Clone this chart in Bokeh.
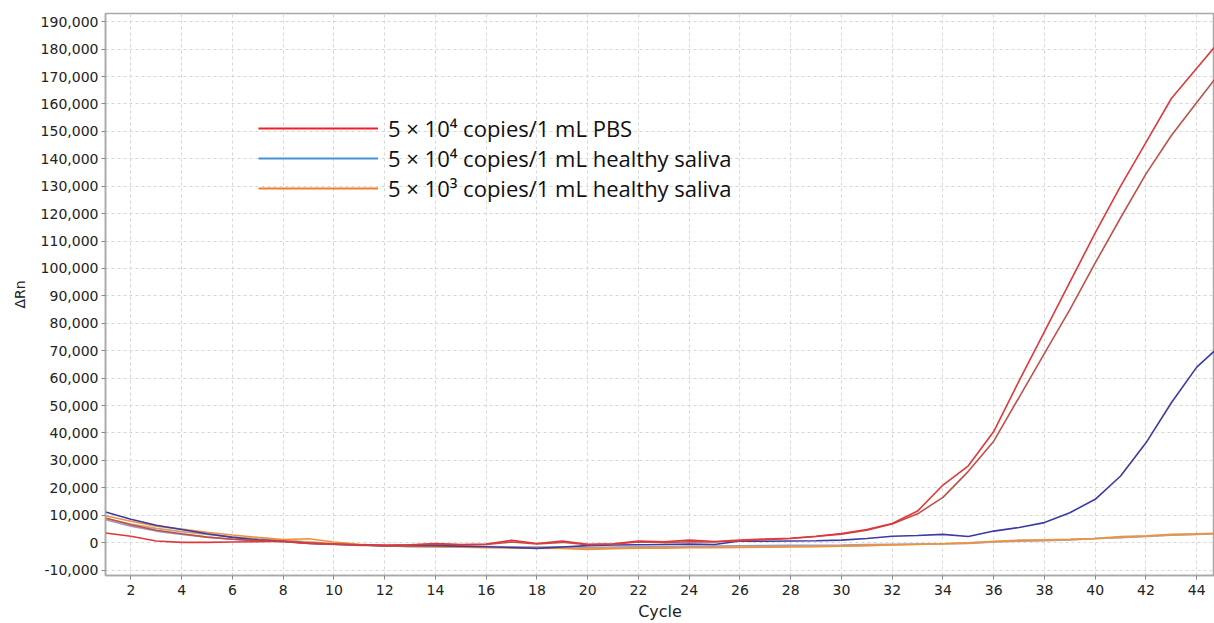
from bokeh.plotting import figure
from bokeh.models import Range1d, FixedTicker, NumeralTickFormatter, Legend, LegendItem
from bokeh.embed import file_html
from bokeh.resources import INLINE

cycles = list(range(1, 46))

pbs_rep1 = [3500, 2300, 600, 100, 100, 200, 300, 500, -200, -500,
            -800, -1000, -800, -300, -700, -500, 800, -300, 600, -600,
            -400, 600, 300, 900, 400, 900, 1300, 1600, 2300, 3300,
            4800, 7000, 11500, 21000, 28000, 40500, 59000, 77000, 95000, 113000,
            130000, 146000, 162000, 173000, 184000]
pbs_rep2 = [9000, 6500, 4500, 3200, 2000, 1200, 700, 400, -300, -600,
            -900, -1100, -900, -600, -800, -700, 200, -500, 100, -800,
            -600, 200, 0, 300, 200, 700, 1100, 1500, 2200, 3100,
            4500, 6800, 10500, 16500, 26000, 37000, 53000, 69000, 85000, 102000,
            118500, 134500, 148500, 160500, 172500]
saliva4_rep1 = [11200, 8500, 6300, 4800, 3200, 1900, 1000, 500, -200, -600,
                -900, -1100, -1000, -1100, -1300, -1500, -1800, -2100, -1600, -1100,
                -900, -800, -700, -500, -700, 600, 500, 600, 700, 900,
                1500, 2300, 2600, 3000, 2200, 4200, 5500, 7300, 10900, 15800,
                24300, 36400, 51000, 64000, 72500]
saliva4_rep2 = [8300, 6000, 4200, 3000, 2000, 1200, 700, 300, -300, -700,
                -1000, -1200, -1300, -1200, -1300, -1400, -1500, -1600, -1500, -1800,
                -1600, -1500, -1400, -1300, -1300, -1200, -1100, -1000, -1000, -900,
                -700, -600, -500, -400, -300, 200, 500, 700, 1000, 1500,
                1800, 2200, 2700, 3000, 3300]
saliva3_rep1 = [9800, 7800, 6000, 4900, 3800, 2800, 1900, 1100, 1400, 200,
                -600, -1100, -1500, -1600, -1700, -1900, -2000, -2000, -2100, -2500,
                -2200, -2000, -2000, -1900, -1900, -1800, -1700, -1600, -1500, -1300,
                -1100, -900, -700, -400, -100, 500, 900, 1000, 1200, 1500,
                2200, 2500, 3000, 3200, 3500]
saliva3_rep2 = [8800, 6800, 5200, 4000, 3000, 2100, 1400, 800, 300, -300,
                -800, -1200, -1400, -1500, -1600, -1700, -1700, -1800, -1900, -2100,
                -2000, -1900, -1800, -1700, -1700, -1600, -1500, -1400, -1300, -1200,
                -1000, -800, -600, -400, -200, 300, 700, 900, 1100, 1400,
                1900, 2300, 2800, 3100, 3300]

legend_labels = ["5 \u00d7 10\u2074 copies/1 mL PBS",
                 "5 \u00d7 10\u2074 copies/1 mL healthy saliva",
                 "5 \u00d7 10\u00b3 copies/1 mL healthy saliva"]
legend_colors = ["#f0202a", "#4a90d9", "#f47c2a"]
legend_series = [pbs_rep1, saliva4_rep1, saliva3_rep1]

y_ticks = list(range(-10000, 190001, 10000))
x_ticks = list(range(2, 45, 2))

p = figure(width=1214, height=623, output_backend="svg", toolbar_location=None,
           x_range=Range1d(1, 44.7), y_range=Range1d(-12000, 193000),
           min_border_left=105, min_border_right=0, min_border_top=13, min_border_bottom=45)
p.background_fill_color = "white"
p.border_fill_color = "white"
p.outline_line_color = "#a8a8a8"
p.outline_line_width = 1.5

for ax in (p.xaxis[0], p.yaxis[0]):
    ax.axis_line_color = "#a8a8a8"
    ax.axis_line_width = 1.5
    ax.major_tick_line_color = "#888888"
    ax.major_tick_in = 0
    ax.major_tick_out = 4
    ax.minor_tick_line_color = None
    ax.major_label_text_font = "DejaVu Sans"
    ax.major_label_text_font_size = "14px"
    ax.major_label_text_color = "#222222"
    ax.axis_label_text_font = "DejaVu Sans"
    ax.axis_label_text_font_style = "normal"
    ax.axis_label_text_color = "#222222"

p.xaxis.ticker = FixedTicker(ticks=x_ticks)
p.yaxis.ticker = FixedTicker(ticks=y_ticks)
p.yaxis.formatter = NumeralTickFormatter(format="0,0")
p.xaxis.axis_label = "Cycle"
p.yaxis.axis_label = "\u0394Rn"
p.xaxis.axis_label_text_font_size = "16px"
p.yaxis.axis_label_text_font_size = "14px"
p.xaxis.axis_label_standoff = 4
p.yaxis.axis_label_standoff = 10
p.xaxis.major_label_standoff = 5
p.yaxis.major_label_standoff = 3

p.xgrid.grid_line_color = "#d6d6d6"
p.ygrid.grid_line_color = "#d6d6d6"
p.xgrid.grid_line_dash = "3 3"
p.ygrid.grid_line_dash = "3 3"

curves = [
    (saliva4_rep2, "#9c9cc0"),
    (saliva3_rep2, "#c9a27a"),
    (saliva3_rep1, "#f0923c"),
    (saliva4_rep1, "#3b3aa6"),
    (pbs_rep2, "#c0504a"),
    (pbs_rep1, "#e0383a"),
]
for ys, col in curves:
    p.line(cycles, ys, line_color=col, line_width=1.6)

# legend swatches: single-point lines (draw nothing on the plot itself)
items = []
for lab, col, ys in zip(legend_labels, legend_colors, legend_series):
    r = p.line(x=cycles[:1], y=ys[:1], line_color=col, line_width=2)
    items.append(LegendItem(label=lab, renderers=[r]))

legend = Legend(items=items, location=(153, 372))
legend.background_fill_alpha = 0
legend.border_line_alpha = 0
legend.margin = 0
legend.padding = 0
legend.spacing = 0
legend.glyph_width = 120
legend.glyph_height = 30
legend.label_height = 30
legend.label_standoff = 10
legend.label_text_font = "Open Sans"
legend.label_text_font_size = "22px"
legend.label_text_color = "#111111"
p.add_layout(legend)

open("out.html", "w").write(file_html(p, INLINE))
